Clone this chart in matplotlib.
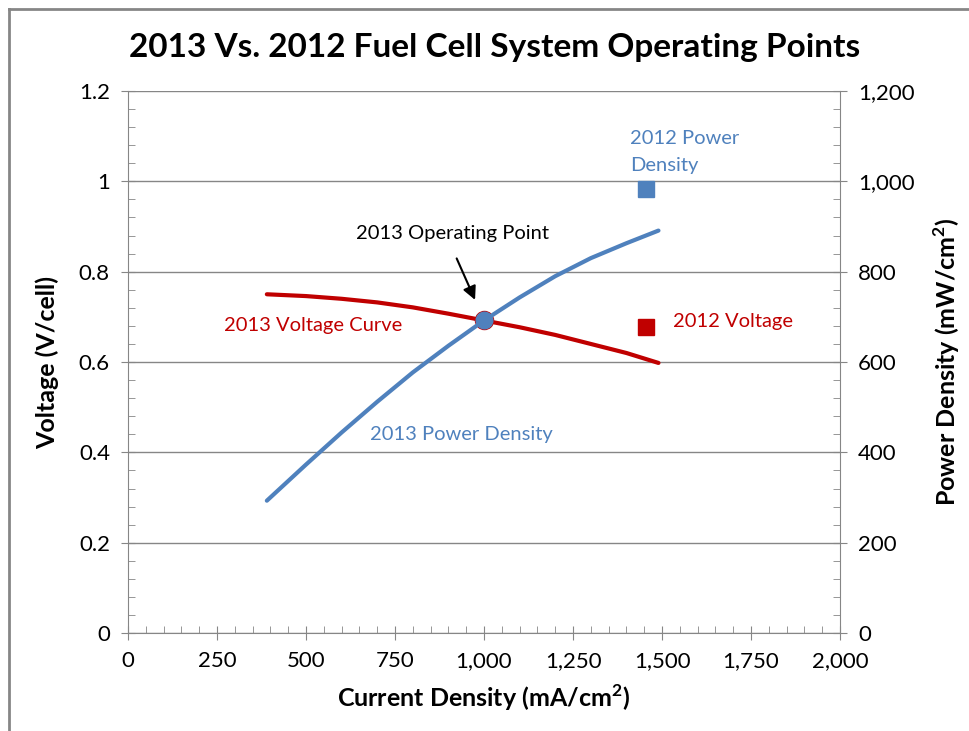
import matplotlib.pyplot as plt
from matplotlib.ticker import MultipleLocator, FuncFormatter
from matplotlib.lines import Line2D

plt.rcParams['font.family'] = ['Lato', 'DejaVu Sans']

# 2013 curve
current = [390, 500, 600, 700, 800, 900, 1000, 1100, 1200, 1300, 1400, 1490]
voltage = [0.750, 0.746, 0.740, 0.732, 0.721, 0.707, 0.692, 0.677, 0.660, 0.640, 0.620, 0.598]
power = [293, 373, 444, 512, 577, 636, 692, 743, 790, 830, 863, 891]

# operating points
op_current, op_voltage, op_power = 1000, 0.692, 692
current_2012, voltage_2012, power_2012 = 1455, 0.677, 983

red = '#C00000'
blue = '#4F81BD'
grey = '#868686'

fig = plt.figure(figsize=(9.69, 7.31), dpi=100)
ax = fig.add_axes([0.1321, 0.134, 0.7348, 0.7415])
ax2 = ax.twinx()

ax.plot(current, voltage, color=red, lw=3, solid_capstyle='round')
ax.plot([current_2012], [voltage_2012], 's', color=red, ms=11)
ax.plot([op_current], [op_voltage], 'o', color=red, ms=13)

ax2.plot(current, power, color=blue, lw=3, solid_capstyle='round')
ax2.plot([current_2012], [power_2012], 's', color=blue, ms=11)
ax2.plot([op_current], [op_power], 'o', color=blue, ms=12)

ax.set_xlim(0, 2000)
ax.set_ylim(0, 1.2)
ax2.set_ylim(0, 1200)

ax.xaxis.set_major_locator(MultipleLocator(250))
ax.xaxis.set_minor_locator(MultipleLocator(50))
ax.yaxis.set_major_locator(MultipleLocator(0.2))
ax.yaxis.set_minor_locator(MultipleLocator(0.04))
ax2.yaxis.set_major_locator(MultipleLocator(200))
ax2.yaxis.set_minor_locator(MultipleLocator(40))

ax.xaxis.set_major_formatter(FuncFormatter(lambda v, p: f'{int(v):,}'))
ax.yaxis.set_major_formatter(FuncFormatter(lambda v, p: f'{v:g}'))
ax2.yaxis.set_major_formatter(FuncFormatter(lambda v, p: f'{int(v):,}'))

ax.grid(axis='y', which='major', color=grey, lw=1)
ax.set_axisbelow(True)

for a in (ax, ax2):
    a.spines['top'].set_visible(False)
    for s in ('left', 'right', 'bottom'):
        a.spines[s].set_color(grey)
    a.tick_params(which='major', direction='inout', length=10, color=grey, labelsize=16, pad=8)
    a.tick_params(which='minor', direction='in', length=5, color=grey)
ax.spines['right'].set_visible(False)
ax2.spines['left'].set_visible(False)
ax2.spines['bottom'].set_visible(False)

ax.set_xlabel('Current Density (mA/cm$^\\mathregular{2}$)', fontsize=18, fontweight='bold', labelpad=8)
ax.set_ylabel('Voltage (V/cell)', fontsize=18, fontweight='bold', labelpad=14)
ax2.set_ylabel('Power Density (mW/cm$^\\mathregular{2}$)', fontsize=18, fontweight='bold', labelpad=12)

fig.text(0.51, 0.935, '2013 Vs. 2012 Fuel Cell System Operating Points', ha='center', va='center',
         fontsize=24, fontweight='bold')

ax.text(270, 0.68, '2013 Voltage Curve', color=red, fontsize=14.5, va='center')
ax.text(680, 0.44, '2013 Power Density', color=blue, fontsize=14.5, va='center')
ax.text(1530, 0.69, '2012 Voltage', color=red, fontsize=14.5, va='center')
ax.text(1410, 1.095, '2012 Power', color=blue, fontsize=14.5, va='center')
ax.text(1410, 1.035, 'Density', color=blue, fontsize=14.5, va='center')
ax.text(640, 0.885, '2013 Operating Point', color='black', fontsize=14.5, va='center')
ax.annotate('', xy=(978, 0.732), xytext=(920, 0.835),
            arrowprops=dict(arrowstyle='-|>', color='black', lw=1.5, mutation_scale=20))

# chart frame
fig.add_artist(Line2D([0.0093, 0.0093], [0, 0.988], color=grey, lw=2))
fig.add_artist(Line2D([0.0093, 1.0], [0.988, 0.988], color=grey, lw=2))

fig.savefig('out.png', dpi=100)
